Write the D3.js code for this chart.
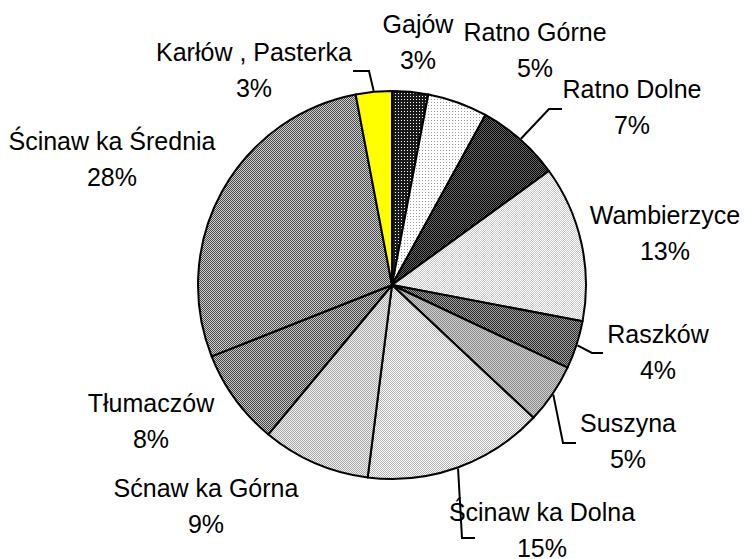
<!DOCTYPE html>
<html>
<head>
<meta charset="utf-8">
<script src="https://cdn.jsdelivr.net/npm/d3@7/dist/d3.min.js"></script>
<style>
  html, body { margin: 0; padding: 0; background: #fff; }
  svg { display: block; }
  text { font-family: "Liberation Sans", Arial, sans-serif; font-size: 25px; fill: #000; }
</style>
</head>
<body>
<script>
// ---- data ----
const categories = ["Gajów", "Ratno Górne", "Ratno Dolne", "Wambierzyce", "Raszków", "Suszyna",
  "Ścinaw ka Dolna", "Sćnaw ka Górna", "Tłumaczów", "Ścinaw ka Średnia", "Karłów , Pasterka"];
const values = [3, 5, 7, 13, 4, 5, 15, 9, 8, 28, 3];
const percentLabels = ["3%", "5%", "7%", "13%", "4%", "5%", "15%", "9%", "8%", "28%", "3%"];

// ---- styles (fill patterns: type, colour A, colour B) ----
const fills = [
  ["dots", "#1a1a1a", "#ffffff"],
  ["dots", "#ffffff", "#9a9a9a"],
  ["checker", "#000000", "#666666"],
  ["checker", "#ffffff", "#c4c4c4"],
  ["checker", "#2a2a2a", "#a0a0a0"],
  ["checker", "#8a8a8a", "#d0d0d0"],
  ["checker", "#b0b0b0", "#ffffff"],
  ["checker", "#a4a4a4", "#f4f4f4"],
  ["checker", "#444444", "#c8c8c8"],
  ["checker", "#484848", "#d0d0d0"],
  ["solid", "#ffff00", "#ffff00"]
];
// label anchor positions (centre x, baseline of first line)
const labelPos = [[418, 33], [535, 41], [632, 98], [665, 224], [658, 343], [628, 432],
  [542, 521], [206, 497], [151, 412], [112, 150], [254, 61]];
// leader lines: [elbow, end] or null
const leaders = [null, null, [[549, 109], [562, 109]], null, [[592, 353], [603, 353]],
  [[563, 443], [576, 443]], [[462, 538], [475, 538]], null, null, null, [[369, 71], [353, 71]]];

const W = 745, H = 559;
const cx = 392, cy = 285, R = 194;

const svg = d3.select("body").append("svg").attr("width", W).attr("height", H);
const defs = svg.append("defs");

fills.forEach((f, i) => {
  const p = defs.append("pattern").attr("id", "p" + i)
    .attr("patternUnits", "userSpaceOnUse");
  if (f[0] === "checker") {
    p.attr("width", 2).attr("height", 2);
    p.append("rect").attr("width", 2).attr("height", 2).attr("fill", f[1]);
    p.append("rect").attr("width", 1).attr("height", 1).attr("fill", f[2]);
    p.append("rect").attr("x", 1).attr("y", 1).attr("width", 1).attr("height", 1).attr("fill", f[2]);
  } else if (f[0] === "dots") {
    p.attr("width", 3).attr("height", 3);
    p.append("rect").attr("width", 3).attr("height", 3).attr("fill", f[1]);
    p.append("rect").attr("width", 1).attr("height", 1).attr("fill", f[2]);
  } else {
    p.attr("width", 2).attr("height", 2);
    p.append("rect").attr("width", 2).attr("height", 2).attr("fill", f[1]);
  }
});

const pie = d3.pie().sort(null).value(d => d.v);
const data = categories.map((c, i) => ({ c, v: values[i], i }));
const arcs = pie(data);
const arc = d3.arc().innerRadius(0).outerRadius(R);

const g = svg.append("g").attr("transform", `translate(${cx},${cy})`);
g.selectAll("path.slice").data(arcs).enter().append("path")
  .attr("class", "slice")
  .attr("d", arc)
  .attr("fill", d => `url(#p${d.data.i})`)
  .attr("stroke", "#000")
  .attr("stroke-width", 2)
  .attr("stroke-linejoin", "round");

// leader lines
const edgeArc = d3.arc().innerRadius(R + 1).outerRadius(R + 1);
arcs.forEach(d => {
  const l = leaders[d.data.i];
  if (!l) return;
  const c = edgeArc.centroid(d);
  const pts = [[c[0] + cx, c[1] + cy], l[0], l[1]];
  svg.append("path")
    .attr("d", d3.line()(pts))
    .attr("fill", "none")
    .attr("stroke", "#000")
    .attr("stroke-width", 2);
});

// labels
arcs.forEach(d => {
  const i = d.data.i;
  const [x, y] = labelPos[i];
  const t = svg.append("text").attr("text-anchor", "middle");
  t.append("tspan").attr("x", x).attr("y", y).text(categories[i]);
  t.append("tspan").attr("x", x).attr("y", y + 35.5).text(percentLabels[i]);
});
</script>
</body>
</html>
